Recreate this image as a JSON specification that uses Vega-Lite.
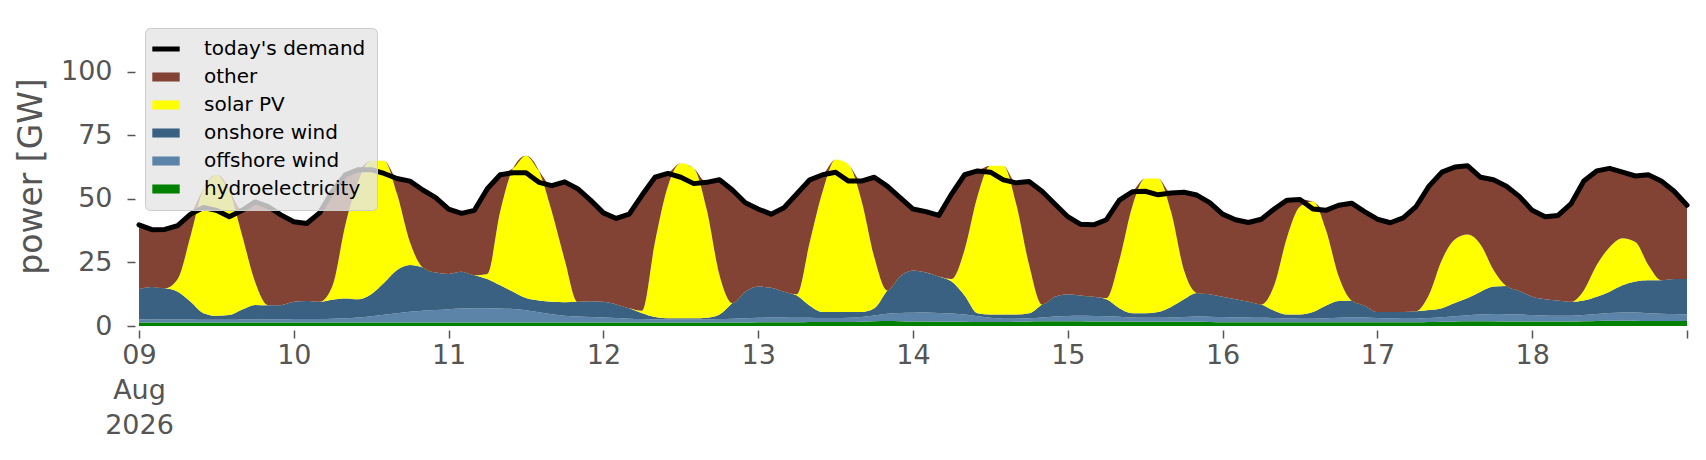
{
  "$schema": "https://vega.github.io/schema/vega-lite/v6.json",
  "width": 1548,
  "height": 300,
  "autosize": {"type": "none"},
  "padding": {"left": 139, "top": 26, "right": 19, "bottom": 134},
  "background": "white",
  "config": {"font": "DejaVu Sans", "view": {"stroke": null}},
  "data": {
    "values": [
      {"t": "2026-08-09T00:00", "D": 39.8, "h": 1.4, "f": 1.3, "n": 11.8, "s": 0, "o": 25.3},
      {"t": "2026-08-09T02:00", "D": 37.9, "h": 1.4, "f": 1.3, "n": 12.6, "s": 0, "o": 22.6},
      {"t": "2026-08-09T04:00", "D": 38.0, "h": 1.4, "f": 1.2, "n": 12.2, "s": 0, "o": 23.2},
      {"t": "2026-08-09T06:00", "D": 39.5, "h": 1.4, "f": 1.2, "n": 10.9, "s": 5, "o": 21.0},
      {"t": "2026-08-09T08:00", "D": 44.0, "h": 1.4, "f": 1.2, "n": 6.9, "s": 26, "o": 8.5},
      {"t": "2026-08-09T10:00", "D": 46.6, "h": 1.4, "f": 1.1, "n": 2.5, "s": 49, "o": 0},
      {"t": "2026-08-09T12:00", "D": 45.5, "h": 1.4, "f": 1.1, "n": 1.5, "s": 55.5, "o": 0},
      {"t": "2026-08-09T14:00", "D": 43.0, "h": 1.4, "f": 1.1, "n": 1.8, "s": 49, "o": 0},
      {"t": "2026-08-09T16:00", "D": 45.5, "h": 1.4, "f": 1.2, "n": 3.9, "s": 29, "o": 10.0},
      {"t": "2026-08-09T18:00", "D": 48.8, "h": 1.4, "f": 1.2, "n": 5.7, "s": 9, "o": 31.5},
      {"t": "2026-08-09T20:00", "D": 47.0, "h": 1.4, "f": 1.3, "n": 5.5, "s": 0, "o": 38.8},
      {"t": "2026-08-09T22:00", "D": 43.7, "h": 1.4, "f": 1.3, "n": 5.5, "s": 0, "o": 35.5},
      {"t": "2026-08-10T00:00", "D": 41.0, "h": 1.4, "f": 1.4, "n": 6.7, "s": 0, "o": 31.5},
      {"t": "2026-08-10T02:00", "D": 40.3, "h": 1.4, "f": 1.4, "n": 7.0, "s": 0, "o": 30.5},
      {"t": "2026-08-10T04:00", "D": 44.5, "h": 1.4, "f": 1.4, "n": 6.7, "s": 0, "o": 35.0},
      {"t": "2026-08-10T06:00", "D": 53.0, "h": 1.4, "f": 1.5, "n": 7.4, "s": 5.5, "o": 37.2},
      {"t": "2026-08-10T08:00", "D": 59.5, "h": 1.4, "f": 1.6, "n": 7.8, "s": 29, "o": 19.7},
      {"t": "2026-08-10T10:00", "D": 61.5, "h": 1.4, "f": 1.9, "n": 7.2, "s": 46.5, "o": 4.5},
      {"t": "2026-08-10T12:00", "D": 61.5, "h": 1.4, "f": 2.4, "n": 8.7, "s": 52.5, "o": 0},
      {"t": "2026-08-10T14:00", "D": 60.0, "h": 1.4, "f": 3.0, "n": 12.6, "s": 48, "o": 0},
      {"t": "2026-08-10T16:00", "D": 58.0, "h": 1.4, "f": 3.6, "n": 17.0, "s": 30, "o": 6.0},
      {"t": "2026-08-10T18:00", "D": 57.0, "h": 1.4, "f": 4.2, "n": 18.4, "s": 9, "o": 24.0},
      {"t": "2026-08-10T20:00", "D": 53.5, "h": 1.4, "f": 4.6, "n": 17.0, "s": 0, "o": 30.5},
      {"t": "2026-08-10T22:00", "D": 50.5, "h": 1.4, "f": 4.9, "n": 14.7, "s": 0, "o": 29.5},
      {"t": "2026-08-11T00:00", "D": 46.0, "h": 1.4, "f": 5.2, "n": 13.9, "s": 0, "o": 25.5},
      {"t": "2026-08-11T02:00", "D": 44.3, "h": 1.4, "f": 5.5, "n": 14.4, "s": 0, "o": 23.0},
      {"t": "2026-08-11T04:00", "D": 45.5, "h": 1.4, "f": 5.6, "n": 13.0, "s": 0, "o": 25.5},
      {"t": "2026-08-11T06:00", "D": 54.0, "h": 1.4, "f": 5.6, "n": 11.5, "s": 2, "o": 33.5},
      {"t": "2026-08-11T08:00", "D": 59.5, "h": 1.4, "f": 5.5, "n": 9.1, "s": 29, "o": 14.5},
      {"t": "2026-08-11T10:00", "D": 60.3, "h": 1.4, "f": 5.3, "n": 6.8, "s": 48.5, "o": 0},
      {"t": "2026-08-11T12:00", "D": 60.3, "h": 1.4, "f": 4.8, "n": 4.8, "s": 56, "o": 0},
      {"t": "2026-08-11T14:00", "D": 56.5, "h": 1.4, "f": 4.0, "n": 4.6, "s": 51, "o": 0},
      {"t": "2026-08-11T16:00", "D": 55.2, "h": 1.4, "f": 3.2, "n": 4.9, "s": 35.5, "o": 10.2},
      {"t": "2026-08-11T18:00", "D": 56.7, "h": 1.4, "f": 2.6, "n": 5.3, "s": 16.7, "o": 30.7},
      {"t": "2026-08-11T20:00", "D": 54.0, "h": 1.4, "f": 2.3, "n": 5.8, "s": 0, "o": 44.5},
      {"t": "2026-08-11T22:00", "D": 49.5, "h": 1.4, "f": 2.1, "n": 6.2, "s": 0, "o": 39.8},
      {"t": "2026-08-12T00:00", "D": 44.5, "h": 1.4, "f": 1.9, "n": 6.2, "s": 0, "o": 35.0},
      {"t": "2026-08-12T02:00", "D": 42.3, "h": 1.4, "f": 1.7, "n": 5.4, "s": 0, "o": 33.8},
      {"t": "2026-08-12T04:00", "D": 44.0, "h": 1.4, "f": 1.5, "n": 4.1, "s": 0, "o": 37.0},
      {"t": "2026-08-12T06:00", "D": 51.5, "h": 1.4, "f": 1.4, "n": 2.2, "s": 1, "o": 45.5},
      {"t": "2026-08-12T08:00", "D": 58.5, "h": 1.4, "f": 1.3, "n": 0.8, "s": 29.5, "o": 25.5},
      {"t": "2026-08-12T10:00", "D": 60.0, "h": 1.4, "f": 1.2, "n": 0.4, "s": 52, "o": 5.0},
      {"t": "2026-08-12T12:00", "D": 58.5, "h": 1.4, "f": 1.2, "n": 0.4, "s": 61, "o": 0},
      {"t": "2026-08-12T14:00", "D": 56.0, "h": 1.4, "f": 1.2, "n": 0.4, "s": 59, "o": 0},
      {"t": "2026-08-12T16:00", "D": 56.5, "h": 1.4, "f": 1.3, "n": 0.5, "s": 42.8, "o": 10.5},
      {"t": "2026-08-12T18:00", "D": 57.5, "h": 1.4, "f": 1.4, "n": 1.7, "s": 15.5, "o": 37.5},
      {"t": "2026-08-12T20:00", "D": 53.5, "h": 1.4, "f": 1.5, "n": 6.1, "s": 0, "o": 44.5},
      {"t": "2026-08-12T22:00", "D": 48.5, "h": 1.4, "f": 1.6, "n": 10.5, "s": 0, "o": 35.0},
      {"t": "2026-08-13T00:00", "D": 46.0, "h": 1.5, "f": 1.7, "n": 12.3, "s": 0, "o": 30.5},
      {"t": "2026-08-13T02:00", "D": 44.0, "h": 1.5, "f": 1.8, "n": 11.7, "s": 0, "o": 29.0},
      {"t": "2026-08-13T04:00", "D": 46.5, "h": 1.5, "f": 1.8, "n": 10.2, "s": 0, "o": 33.0},
      {"t": "2026-08-13T06:00", "D": 52.0, "h": 1.5, "f": 1.7, "n": 8.8, "s": 0.5, "o": 39.5},
      {"t": "2026-08-13T08:00", "D": 57.5, "h": 1.6, "f": 1.6, "n": 4.8, "s": 25, "o": 24.5},
      {"t": "2026-08-13T10:00", "D": 59.5, "h": 1.6, "f": 1.5, "n": 2.4, "s": 47.5, "o": 6.5},
      {"t": "2026-08-13T12:00", "D": 60.5, "h": 1.6, "f": 1.5, "n": 2.4, "s": 60, "o": 0},
      {"t": "2026-08-13T14:00", "D": 57.0, "h": 1.6, "f": 1.6, "n": 2.3, "s": 58, "o": 0},
      {"t": "2026-08-13T16:00", "D": 57.0, "h": 1.7, "f": 1.8, "n": 2.0, "s": 44, "o": 7.5},
      {"t": "2026-08-13T18:00", "D": 58.5, "h": 1.9, "f": 2.2, "n": 2.9, "s": 20, "o": 31.5},
      {"t": "2026-08-13T20:00", "D": 55.0, "h": 2.0, "f": 2.8, "n": 9.2, "s": 0, "o": 41.0},
      {"t": "2026-08-13T22:00", "D": 50.5, "h": 1.9, "f": 3.2, "n": 14.4, "s": 0, "o": 31.0},
      {"t": "2026-08-14T00:00", "D": 46.0, "h": 1.8, "f": 3.4, "n": 16.6, "s": 0, "o": 24.2},
      {"t": "2026-08-14T02:00", "D": 45.0, "h": 1.8, "f": 3.5, "n": 15.7, "s": 0, "o": 24.0},
      {"t": "2026-08-14T04:00", "D": 43.5, "h": 1.7, "f": 3.4, "n": 14.4, "s": 0, "o": 24.0},
      {"t": "2026-08-14T06:00", "D": 52.0, "h": 1.7, "f": 3.2, "n": 12.6, "s": 1, "o": 33.5},
      {"t": "2026-08-14T08:00", "D": 59.5, "h": 1.7, "f": 2.8, "n": 7.5, "s": 18, "o": 29.5},
      {"t": "2026-08-14T10:00", "D": 61.0, "h": 1.6, "f": 2.2, "n": 1.2, "s": 46, "o": 10.0},
      {"t": "2026-08-14T12:00", "D": 60.5, "h": 1.6, "f": 1.6, "n": 1.3, "s": 58.5, "o": 0},
      {"t": "2026-08-14T14:00", "D": 57.5, "h": 1.6, "f": 1.3, "n": 1.6, "s": 58.5, "o": 0},
      {"t": "2026-08-14T16:00", "D": 56.3, "h": 1.7, "f": 1.2, "n": 1.6, "s": 43.5, "o": 8.3},
      {"t": "2026-08-14T18:00", "D": 56.8, "h": 1.8, "f": 1.2, "n": 2.0, "s": 19, "o": 32.8},
      {"t": "2026-08-14T20:00", "D": 53.0, "h": 1.9, "f": 1.4, "n": 5.2, "s": 0, "o": 44.5},
      {"t": "2026-08-14T22:00", "D": 48.0, "h": 1.9, "f": 1.8, "n": 7.8, "s": 0, "o": 36.5},
      {"t": "2026-08-15T00:00", "D": 43.0, "h": 1.9, "f": 2.0, "n": 8.6, "s": 0, "o": 30.5},
      {"t": "2026-08-15T02:00", "D": 40.0, "h": 1.9, "f": 2.1, "n": 8.0, "s": 0, "o": 28.0},
      {"t": "2026-08-15T04:00", "D": 39.8, "h": 1.8, "f": 2.1, "n": 7.6, "s": 0, "o": 28.3},
      {"t": "2026-08-15T06:00", "D": 41.8, "h": 1.8, "f": 2.0, "n": 6.7, "s": 0.5, "o": 30.8},
      {"t": "2026-08-15T08:00", "D": 49.5, "h": 1.8, "f": 1.8, "n": 3.4, "s": 19, "o": 23.5},
      {"t": "2026-08-15T10:00", "D": 52.8, "h": 1.7, "f": 1.6, "n": 1.7, "s": 42, "o": 5.8},
      {"t": "2026-08-15T12:00", "D": 53.0, "h": 1.7, "f": 1.5, "n": 1.8, "s": 53, "o": 0},
      {"t": "2026-08-15T14:00", "D": 51.6, "h": 1.7, "f": 1.5, "n": 2.3, "s": 52.5, "o": 0},
      {"t": "2026-08-15T16:00", "D": 52.3, "h": 1.7, "f": 1.6, "n": 4.2, "s": 37.5, "o": 7.3},
      {"t": "2026-08-15T18:00", "D": 52.6, "h": 1.7, "f": 1.8, "n": 7.0, "s": 11.5, "o": 30.6},
      {"t": "2026-08-15T20:00", "D": 51.5, "h": 1.7, "f": 2.0, "n": 9.3, "s": 0, "o": 38.5},
      {"t": "2026-08-15T22:00", "D": 48.5, "h": 1.6, "f": 2.0, "n": 8.9, "s": 0, "o": 36.0},
      {"t": "2026-08-16T00:00", "D": 44.0, "h": 1.5, "f": 2.0, "n": 8.0, "s": 0, "o": 32.5},
      {"t": "2026-08-16T02:00", "D": 41.8, "h": 1.5, "f": 1.9, "n": 7.1, "s": 0, "o": 31.3},
      {"t": "2026-08-16T04:00", "D": 40.7, "h": 1.5, "f": 1.8, "n": 6.2, "s": 0, "o": 31.2},
      {"t": "2026-08-16T06:00", "D": 42.0, "h": 1.5, "f": 1.7, "n": 5.3, "s": 0, "o": 33.5},
      {"t": "2026-08-16T08:00", "D": 46.0, "h": 1.5, "f": 1.6, "n": 2.9, "s": 10, "o": 30.0},
      {"t": "2026-08-16T10:00", "D": 49.5, "h": 1.5, "f": 1.5, "n": 1.5, "s": 30.5, "o": 14.5},
      {"t": "2026-08-16T12:00", "D": 49.8, "h": 1.5, "f": 1.4, "n": 1.6, "s": 42.5, "o": 2.8},
      {"t": "2026-08-16T14:00", "D": 46.0, "h": 1.5, "f": 1.4, "n": 2.6, "s": 43.5, "o": 0},
      {"t": "2026-08-16T16:00", "D": 45.5, "h": 1.5, "f": 1.5, "n": 5.0, "s": 30, "o": 7.5},
      {"t": "2026-08-16T18:00", "D": 47.5, "h": 1.5, "f": 1.7, "n": 6.6, "s": 9.7, "o": 28.0},
      {"t": "2026-08-16T20:00", "D": 48.3, "h": 1.5, "f": 1.9, "n": 6.6, "s": 0, "o": 38.3},
      {"t": "2026-08-16T22:00", "D": 45.0, "h": 1.5, "f": 1.8, "n": 4.7, "s": 0, "o": 37.0},
      {"t": "2026-08-17T00:00", "D": 42.0, "h": 1.5, "f": 1.6, "n": 2.4, "s": 0, "o": 36.5},
      {"t": "2026-08-17T02:00", "D": 40.6, "h": 1.5, "f": 1.5, "n": 2.5, "s": 0, "o": 35.1},
      {"t": "2026-08-17T04:00", "D": 42.5, "h": 1.5, "f": 1.4, "n": 2.6, "s": 0, "o": 37.0},
      {"t": "2026-08-17T06:00", "D": 47.0, "h": 1.5, "f": 1.4, "n": 2.9, "s": 0, "o": 41.2},
      {"t": "2026-08-17T08:00", "D": 55.0, "h": 1.6, "f": 1.5, "n": 3.2, "s": 6, "o": 42.7},
      {"t": "2026-08-17T10:00", "D": 60.5, "h": 1.7, "f": 1.7, "n": 3.6, "s": 19, "o": 34.5},
      {"t": "2026-08-17T12:00", "D": 62.5, "h": 1.8, "f": 2.0, "n": 5.2, "s": 25, "o": 28.5},
      {"t": "2026-08-17T14:00", "D": 63.0, "h": 1.9, "f": 2.3, "n": 6.8, "s": 25, "o": 27.0},
      {"t": "2026-08-17T16:00", "D": 58.5, "h": 1.9, "f": 2.6, "n": 9.0, "s": 18.5, "o": 26.5},
      {"t": "2026-08-17T18:00", "D": 57.5, "h": 1.9, "f": 2.8, "n": 10.8, "s": 6.5, "o": 35.5},
      {"t": "2026-08-17T20:00", "D": 55.0, "h": 1.8, "f": 2.8, "n": 11.1, "s": 0, "o": 39.3},
      {"t": "2026-08-17T22:00", "D": 51.0, "h": 1.8, "f": 2.7, "n": 9.3, "s": 0, "o": 37.2},
      {"t": "2026-08-18T00:00", "D": 45.5, "h": 1.8, "f": 2.5, "n": 7.2, "s": 0, "o": 34.0},
      {"t": "2026-08-18T02:00", "D": 43.0, "h": 1.8, "f": 2.3, "n": 6.4, "s": 0, "o": 32.5},
      {"t": "2026-08-18T04:00", "D": 43.5, "h": 1.8, "f": 2.2, "n": 6.0, "s": 0, "o": 33.5},
      {"t": "2026-08-18T06:00", "D": 48.0, "h": 1.8, "f": 2.2, "n": 5.5, "s": 0, "o": 38.5},
      {"t": "2026-08-18T08:00", "D": 57.0, "h": 1.9, "f": 2.4, "n": 5.7, "s": 4, "o": 43.0},
      {"t": "2026-08-18T10:00", "D": 61.0, "h": 2.0, "f": 2.7, "n": 6.8, "s": 12.5, "o": 37.0},
      {"t": "2026-08-18T12:00", "D": 62.0, "h": 2.1, "f": 3.0, "n": 8.4, "s": 17.5, "o": 31.0},
      {"t": "2026-08-18T14:00", "D": 60.5, "h": 2.1, "f": 3.2, "n": 10.7, "s": 18.5, "o": 26.0},
      {"t": "2026-08-18T16:00", "D": 59.0, "h": 2.1, "f": 3.2, "n": 12.2, "s": 15.5, "o": 26.0},
      {"t": "2026-08-18T18:00", "D": 59.5, "h": 2.0, "f": 3.0, "n": 13.0, "s": 6, "o": 35.5},
      {"t": "2026-08-18T20:00", "D": 57.0, "h": 2.0, "f": 2.8, "n": 13.2, "s": 0, "o": 39.0},
      {"t": "2026-08-18T22:00", "D": 53.0, "h": 2.0, "f": 2.7, "n": 13.8, "s": 0, "o": 34.5},
      {"t": "2026-08-19T00:00", "D": 47.5, "h": 2.0, "f": 2.6, "n": 13.9, "s": 0, "o": 29.0}
    ]
  },
  "encoding": {
    "x": {
      "field": "t",
      "type": "temporal",
      "scale": {
        "domain": [
          {"year": 2026, "month": 8, "date": 9},
          {"year": 2026, "month": 8, "date": 19}
        ],
        "nice": false
      },
      "axis": {
        "title": null,
        "tickCount": {"interval": "day", "step": 1},
        "labelExpr": "date(datum.value) == 9 ? ['09', 'Aug', '2026'] : (date(datum.value) == 19 ? '' : timeFormat(datum.value, '%d'))",
        "labelFontSize": 27,
        "labelColor": "#555555",
        "labelLineHeight": 35,
        "labelPadding": 4,
        "labelOverlap": false,
        "labelFlush": false,
        "labelBound": false,
        "tickColor": "#555555",
        "tickSize": 8,
        "tickWidth": 1.5,
        "offset": 4,
        "domain": false,
        "grid": false
      }
    }
  },
  "layer": [
    {
      "transform": [
        {"fold": ["h", "f", "n", "s", "o"], "as": ["key", "v"]},
        {
          "lookup": "key",
          "from": {
            "data": {
              "values": [
                {"key": "h", "src": "hydroelectricity", "k": 1},
                {"key": "f", "src": "offshore wind", "k": 2},
                {"key": "n", "src": "onshore wind", "k": 3},
                {"key": "s", "src": "solar PV", "k": 4},
                {"key": "o", "src": "other", "k": 5}
              ]
            },
            "key": "key",
            "fields": ["src", "k"]
          }
        }
      ],
      "mark": {"type": "area", "interpolate": "monotone"},
      "encoding": {
        "y": {
          "field": "v",
          "type": "quantitative",
          "stack": "zero",
          "scale": {"domain": [0, 118], "nice": false},
          "axis": {
            "title": "power [GW]",
            "values": [0, 25, 50, 75, 100],
            "labelFontSize": 27,
            "labelColor": "#555555",
            "labelPadding": 15,
            "tickColor": "#555555",
            "tickSize": 8,
            "tickWidth": 1.5,
            "offset": 4,
            "domain": false,
            "grid": false,
            "titleFontSize": 33,
            "titleColor": "#555555",
            "titleFontWeight": "normal",
            "titlePadding": 12
          }
        },
        "color": {
          "field": "src",
          "type": "nominal",
          "scale": {
            "domain": ["today's demand", "other", "solar PV", "onshore wind", "offshore wind", "hydroelectricity"],
            "range": ["#000000", "#824234", "#ffff00", "#3b6182", "#5c84a8", "#008000"]
          },
          "legend": {
            "title": null,
            "orient": "none",
            "legendX": 6,
            "legendY": 2,
            "direction": "vertical",
            "fillColor": "rgba(229,229,229,0.8)",
            "strokeColor": "#cccccc",
            "cornerRadius": 5,
            "padding": 11,
            "labelFontSize": 20,
            "labelColor": "#000000",
            "labelLimit": 0,
            "labelOffset": 28,
            "rowPadding": 8,
            "symbolSize": 3000,
            "symbolType": "M-0.5,-0.165H0.5V0.165H-0.5Z",
            "symbolStrokeWidth": 0,
            "symbolOpacity": 1,
            "encode": {
              "symbols": {
                "update": {
                  "shape": {"signal": "datum.value === \"today's demand\" ? 'M-0.5,0H0.5' : 'M-0.5,-0.165H0.5V0.165H-0.5Z'"},
                  "stroke": {"signal": "datum.value === \"today's demand\" ? '#000000' : 'transparent'"},
                  "strokeWidth": {"signal": "datum.value === \"today's demand\" ? 5 : 0"}
                }
              }
            }
          }
        },
        "order": {"field": "k", "type": "quantitative"}
      }
    },
    {
      "mark": {"type": "line", "strokeWidth": 5, "strokeCap": "round", "strokeJoin": "round"},
      "encoding": {
        "y": {"field": "D", "type": "quantitative", "scale": {"domain": [0, 118], "nice": false}},
        "color": {"datum": "today's demand"}
      }
    }
  ]
}
